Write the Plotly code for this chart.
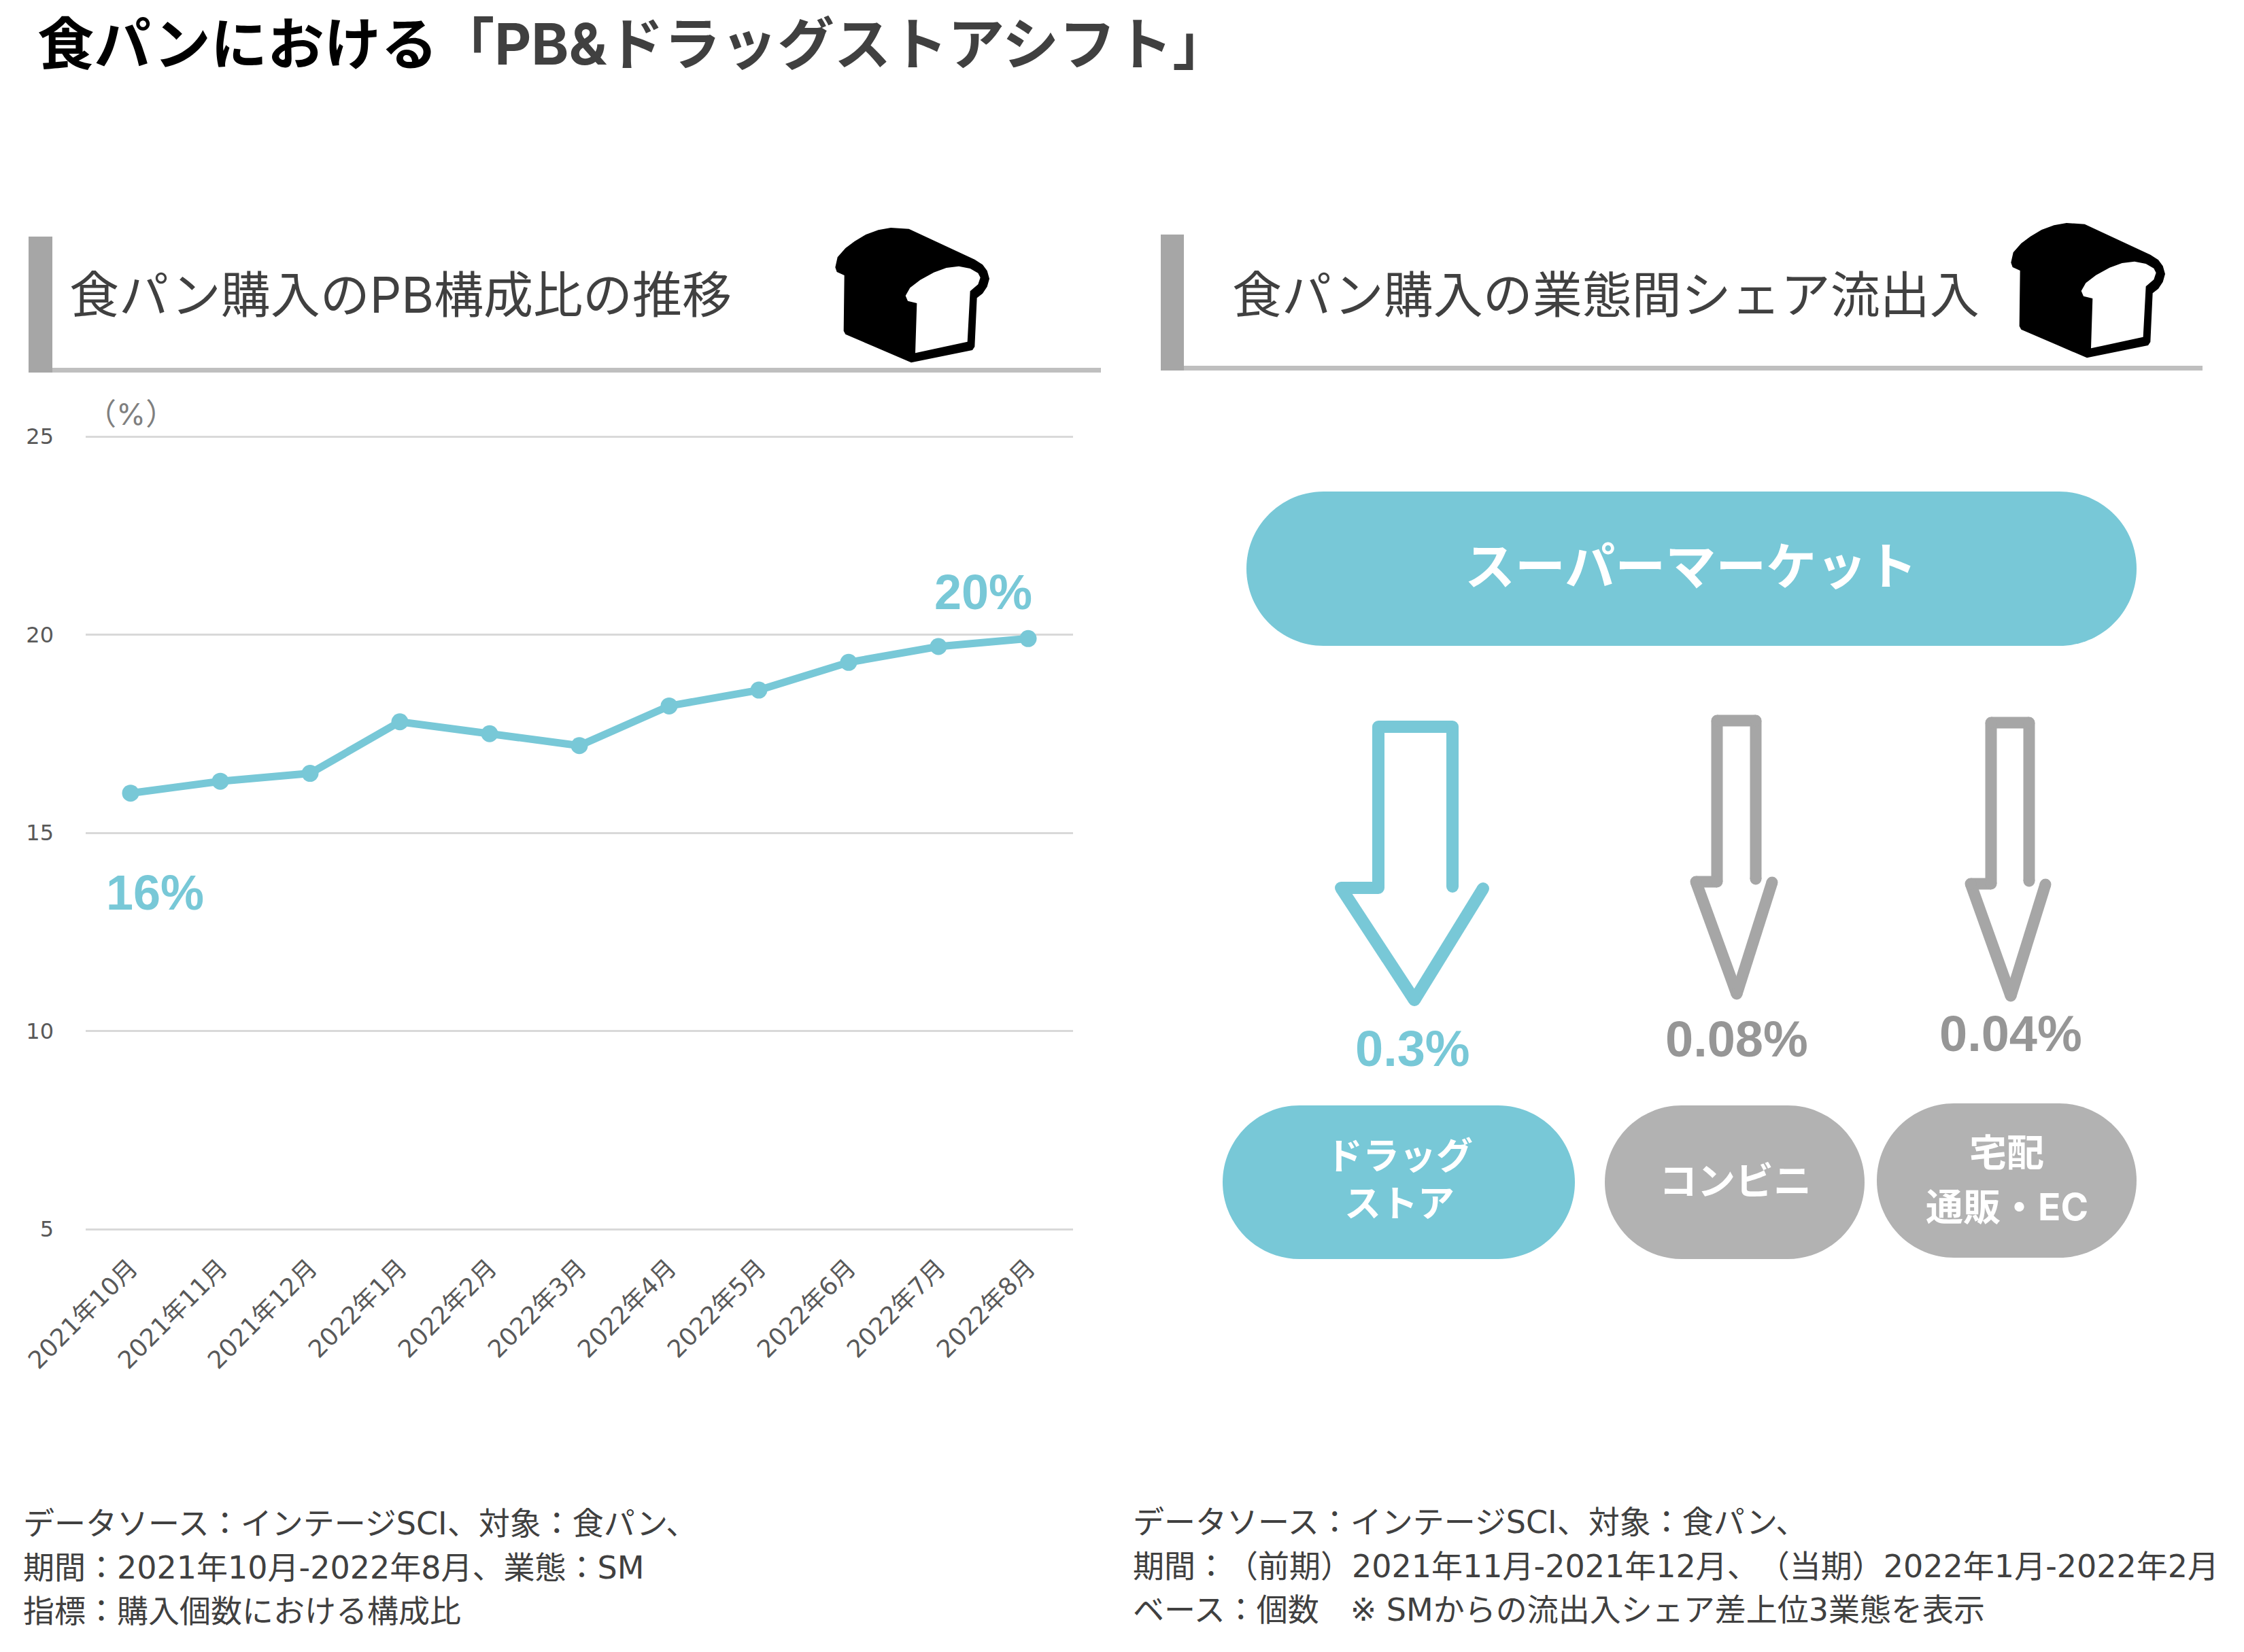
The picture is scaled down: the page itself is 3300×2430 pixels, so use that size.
import plotly.graph_objects as go

W, H = 3300, 2430
BODY_FONT = "DejaVu Sans, Noto Sans CJK JP"
HEAD_FONT = "Inter, Noto Sans CJK JP"
NUM_FONT = "Liberation Sans, Noto Sans CJK JP"
TEAL = "#78c8d7"
GRAY_ARROW = "#a6a6a6"
GRAY_PILL = "#b2b2b2"
INK = "#404040"

months = ["2021年10月", "2021年11月", "2021年12月", "2022年1月", "2022年2月", "2022年3月",
          "2022年4月", "2022年5月", "2022年6月", "2022年7月", "2022年8月"]
pb_share = [16.0, 16.3, 16.5, 17.8, 17.5, 17.2, 18.2, 18.6, 19.3, 19.7, 19.9]
y_ticks = [5, 10, 15, 20, 25]

outflow_labels = ["0.3%", "0.08%", "0.04%"]
# U+200B keeps adjacent full-width punctuation from being squeezed together by the browser
source_left = ["データソース：インテージSCI、対象：食パン、",
               "期間：2021年10月-2022年8月、業態：SM",
               "指標：購入個数における構成比"]
source_right = ["データソース：インテージSCI、対象：食パン、",
                "期間：\u200b（前期）2021年11月-2021年12月、\u200b（当期）2022年1月-2022年2月",
                "ベース：個数　※ SMからの流出入シェア差上位3業態を表示"]


def px(x):
    return x / W


def py(y):
    return 1 - y / H


def rect(x0, y0, x1, y1, color):
    return dict(type="rect", xref="paper", yref="paper", x0=px(x0), x1=px(x1), y0=py(y0), y1=py(y1),
                fillcolor=color, line_width=0, layer="below")


def pill(x0, y0, x1, y1, color):
    # Stadium outline built from straight edges and cubic end caps
    r = (y1 - y0) / 2
    k = 0.5523 * r
    pts = [
        f"M{px(x0 + r)},{py(y0)}", f"L{px(x1 - r)},{py(y0)}",
        f"C{px(x1 - r + k)},{py(y0)} {px(x1)},{py(y0 + r - k)} {px(x1)},{py(y0 + r)}",
        f"C{px(x1)},{py(y0 + r + k)} {px(x1 - r + k)},{py(y1)} {px(x1 - r)},{py(y1)}",
        f"L{px(x0 + r)},{py(y1)}",
        f"C{px(x0 + r - k)},{py(y1)} {px(x0)},{py(y0 + r + k)} {px(x0)},{py(y0 + r)}",
        f"C{px(x0)},{py(y0 + r - k)} {px(x0 + r - k)},{py(y0)} {px(x0 + r)},{py(y0)}", "Z",
    ]
    return dict(type="path", xref="paper", yref="paper", path=" ".join(pts), fillcolor=color, line_width=0)


def polyline(points, color, width, closed=False, fill=None):
    d = "M" + " L".join(f"{px(x)},{py(y)}" for x, y in points) + (" Z" if closed else "")
    shape = dict(type="path", xref="paper", yref="paper", path=d,
                 line=dict(color=color, width=width))
    if fill:
        shape["fillcolor"] = fill
    return shape


def dot(x, y, d, color):
    return dict(type="circle", xref="paper", yref="paper", x0=px(x - d / 2), x1=px(x + d / 2),
                y0=py(y - d / 2), y1=py(y + d / 2), fillcolor=color, line_width=0)


def arrow(points, color, width):
    # Open arrow outline: separate segments with round dots at every joint and end
    out = [polyline([a, b], color, width) for a, b in zip(points, points[1:])]
    out += [dot(x, y, width, color) for x, y in points]
    return out


def bread(dx, dy):
    # Loaf icon: black crust with a white cut face
    def t(points):
        return [(1200 + x / 3 + dx, 310 + y / 3 + dy) for x, y in points]
    crust = [(85, 250), (95, 205), (130, 165), (170, 135), (220, 105), (275, 85), (330, 75), (410, 80),
             (700, 215), (735, 238), (755, 265), (765, 300), (755, 335), (735, 365), (710, 385),
             (700, 600), (690, 615), (420, 670), (130, 545), (122, 530), (125, 285), (92, 270)]
    face = [(395, 375), (415, 340), (460, 305), (520, 272), (575, 252), (630, 245), (680, 255), (715, 275),
            (725, 295), (715, 325), (680, 355), (668, 578), (438, 628), (445, 408), (405, 398)]
    return [polyline(t(crust), "#000000", 0, True, "#000000"),
            polyline(t(face), "#ffffff", 0, True, "#ffffff")]


def label(x, y, text, size, color=INK, bold=False, anchor="center", family=BODY_FONT):
    body = f"<b>{text}</b>" if bold else text
    return dict(xref="paper", yref="paper", x=px(x), y=py(y), text=body, showarrow=False,
                xanchor=anchor, yanchor="middle", borderpad=0,
                font=dict(family=family, size=size, color=color))


fig = go.Figure()
fig.add_trace(go.Scatter(
    x=months, y=pb_share, mode="lines+markers",
    line=dict(color=TEAL, width=11), marker=dict(color=TEAL, size=25),
    hoverinfo="skip", showlegend=False, cliponaxis=False,
))

shapes = [
    rect(42, 348, 77, 548, "#a6a6a6"), rect(77, 541, 1619, 548, "#bfbfbf"),
    rect(1707, 345, 1741, 545, "#a6a6a6"), rect(1741, 538, 3239, 545, "#bfbfbf"),
    pill(1833, 723, 3142, 950, TEAL),
    pill(1798, 1626, 2316, 1852, TEAL),
    pill(2360, 1626, 2742, 1852, GRAY_PILL),
    pill(2760, 1623, 3142, 1850, GRAY_PILL),
]
shapes += bread(0, 0) + bread(1729, -7)
shapes += arrow([(2136, 1304), (2136, 1069), (2027, 1069), (2027, 1306), (1972, 1306), (2080, 1471), (2181, 1307)],
                TEAL, 18)
shapes += arrow([(2582, 1293), (2582, 1060), (2525, 1060), (2525, 1297), (2494, 1297), (2554, 1462), (2606, 1298)],
                GRAY_ARROW, 17)
shapes += arrow([(2984, 1296), (2984, 1063), (2928, 1063), (2928, 1300), (2898, 1300), (2957, 1465), (3008, 1301)],
                GRAY_ARROW, 17)

title = ('<b><span style="color:#000000">食パンにおける</span>'
         '<span style="color:#404040">「PB&amp;ドラッグストアシフト」</span></b>')
annotations = [
    label(54, 64, title, 83.5, anchor="left", family=HEAD_FONT),
    label(101, 434, "食パン購入のPB構成比の推移", 73, anchor="left", family=HEAD_FONT),
    label(1811, 434, "食パン購入の業態間シェア流出入", 73, anchor="left", family=HEAD_FONT),
    label(192, 609, "（%）", 44, "#7f7f7f", family=HEAD_FONT),
    label(1446, 871, "20%", 72, TEAL, True, family=NUM_FONT),
    label(228, 1313, "16%", 72, TEAL, True, family=NUM_FONT),
    label(2486, 833, "スーパーマーケット", 74, "#ffffff", True, family=HEAD_FONT),
    label(2077, 1542, outflow_labels[0], 74, TEAL, True, family=NUM_FONT),
    label(2554, 1528, outflow_labels[1], 74, "#969696", True, family=NUM_FONT),
    label(2957, 1520, outflow_labels[2], 74, "#969696", True, family=NUM_FONT),
    label(2058, 1736, "ドラッグ<br>ストア", 54, "#ffffff", True, family=HEAD_FONT),
    label(2552, 1737, "コンビニ", 56, "#ffffff", True, family=HEAD_FONT),
    label(2951, 1695, "宅配", 55, "#ffffff", True, family=HEAD_FONT),
    label(2951, 1775, "通販・EC", 55, "#ffffff", True, family=HEAD_FONT),
]
for line, y in zip(source_left, [2241, 2306, 2370]):
    annotations.append(label(33, y, line, 46, anchor="left"))
for line, y in zip(source_right, [2239, 2304, 2368]):
    annotations.append(label(1665, y, line, 46, anchor="left"))

# The value range runs slightly past 5 and 25 so the outermost gridlines are still drawn
PAD = 0.1
UNIT = (1808 - 642) / 20

fig.update_layout(
    width=W, height=H, autosize=False, margin=dict(l=0, r=0, t=0, b=0, autoexpand=False),
    paper_bgcolor="#ffffff", plot_bgcolor="#ffffff", showlegend=False,
    shapes=shapes, annotations=annotations,
    xaxis=dict(domain=[px(126), px(1578)], type="category", range=[-0.5, 10.5], tickangle=-45, showgrid=False,
               zeroline=False, showline=False, ticks="", ticklabelstandoff=22, automargin=False,
               tickfont=dict(family=BODY_FONT, size=36, color="#595959")),
    yaxis=dict(domain=[py(1808 + PAD * UNIT), py(642 - PAD * UNIT)], range=[5 - PAD, 25 + PAD], tickvals=y_ticks,
               showgrid=True, gridcolor="#d9d9d9", gridwidth=3, zeroline=False, showline=False, ticks="",
               ticklabelstandoff=46, automargin=False, tickfont=dict(family=BODY_FONT, size=32, color="#595959")),
)
fig.write_html("out.html")
